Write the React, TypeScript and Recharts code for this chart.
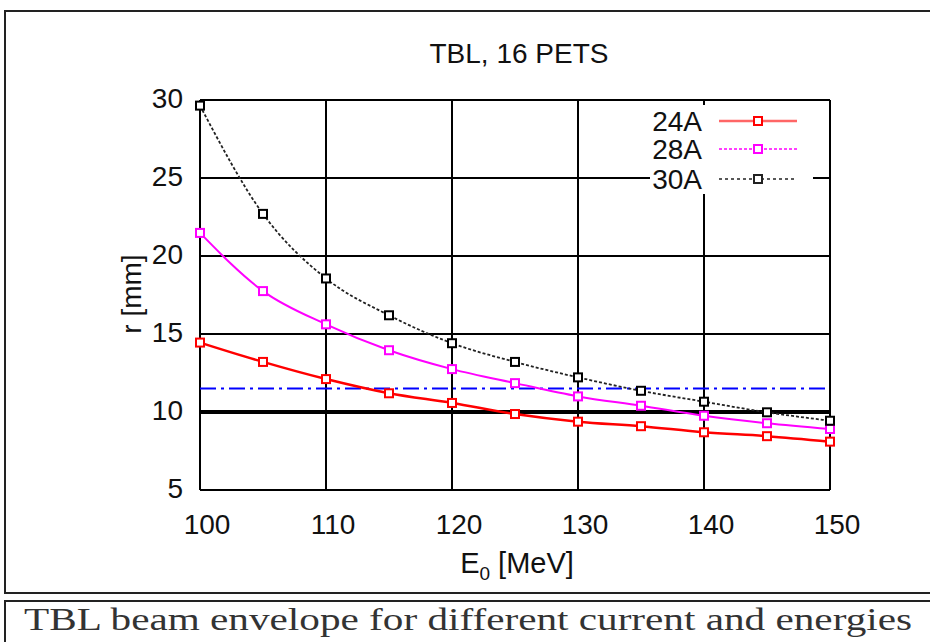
import React from 'react';
import { LineChart, Line, XAxis, YAxis, CartesianGrid, ReferenceLine, Legend } from 'recharts';

const energies = [100, 105, 110, 115, 120, 125, 130, 135, 140, 145, 150];
const r24A = [14.45, 13.21, 12.11, 11.2, 10.58, 9.87, 9.38, 9.09, 8.7, 8.45, 8.1];
const r28A = [21.48, 17.75, 15.62, 13.96, 12.75, 11.85, 11.0, 10.4, 9.76, 9.28, 8.91];
const r30A = [29.64, 22.7, 18.56, 16.2, 14.41, 13.21, 12.22, 11.36, 10.66, 9.98, 9.44];
const xTicks = [100, 110, 120, 130, 140, 150];
const yTicks = [5, 10, 15, 20, 25, 30];
const limitLine = 10;
const apertureLine = 11.5;
const seriesNames = ['24A', '28A', '30A'];

const data = energies.map((e, i) => ({ e, a24: r24A[i], a28: r28A[i], a30: r30A[i] }));

const FONT = '"Liberation Sans", Arial, sans-serif';

const squareDot = (color: string) => (props: any) => {
  const { cx, cy, index } = props;
  if (cx == null || cy == null) return <g key={index} />;
  return (
    <rect key={index} x={cx - 4} y={cy - 4} width={8} height={8} fill="#fff" stroke={color} strokeWidth={2} />
  );
};

const XTick = (props: any) => {
  const { x, y, payload } = props;
  return (
    <text x={x + 7} y={y + 42} textAnchor="middle" fontFamily={FONT} fontSize={28} fill="#111">
      {payload.value}
    </text>
  );
};

const YTick = (props: any) => {
  const { y, payload } = props;
  return (
    <text x={183} y={y + 8} textAnchor="end" fontFamily={FONT} fontSize={28} fill="#111">
      {payload.value}
    </text>
  );
};

const legendItems = [
  { name: seriesNames[0], color: '#ff0000', dash: undefined, width: 2.5 },
  { name: seriesNames[1], color: '#ff00ff', dash: '3 2', width: 1.5 },
  { name: seriesNames[2], color: '#222', dash: '3 3', width: 1.5 },
];

const LegendBox = () => (
  <svg width={163} height={89} style={{ display: 'block' }}>
    {legendItems.map((it, i) => {
      const cy = [16, 44, 74][i];
      return (
        <g key={it.name}>
          <text x={52} y={cy + 10} textAnchor="end" fontFamily={FONT} fontSize={28} fill="#111">
            {it.name}
          </text>
          <line x1={69} x2={147} y1={cy} y2={cy} stroke={it.color} strokeWidth={it.width} strokeDasharray={it.dash} strokeOpacity={i === 0 ? 0.6 : 1} />
          <rect x={104} y={cy - 4} width={8} height={8} fill="#fff" stroke={it.color} strokeWidth={2} />
        </g>
      );
    })}
  </svg>
);

export default function App() {
  return (
    <div style={{ position: 'absolute', left: 0, top: 0, width: 930, height: 642, background: '#fff', overflow: 'hidden' }}>
      <svg width={930} height={642} style={{ position: 'absolute', left: 0, top: 0 }}>
        <rect x={5} y={11} width={940} height={582} fill="none" stroke="#222" strokeWidth={2} />
        <rect x={5} y={601} width={940} height={60} fill="none" stroke="#222" strokeWidth={2} />
        <text x={519} y={63} textAnchor="middle" fontFamily={FONT} fontSize={28} fill="#111">
          TBL, 16 PETS
        </text>
        <text x={0} y={0} transform="translate(141,294) rotate(-90)" textAnchor="middle" fontFamily={FONT} fontSize={28} fill="#111">
          r [mm]
        </text>
        <text x={517} y={573} textAnchor="middle" fontFamily={FONT} fontSize={29} fill="#111">
          E<tspan dy={7} fontSize={19}>0</tspan><tspan dy={-7}> [MeV]</tspan>
        </text>
        <text x={24} y={630} textLength={888} lengthAdjust="spacingAndGlyphs" fontFamily='"Liberation Serif", serif' fontSize={31} fill="#333">
          TBL beam envelope for different current and energies
        </text>
      </svg>
      <div style={{ position: 'absolute', left: 0, top: 0 }}>
        <LineChart width={930} height={642} data={data} margin={{ top: 100, right: 100, bottom: 112, left: 140 }}>
          <CartesianGrid stroke="#000" strokeWidth={2} strokeOpacity={1} horizontal vertical fill="none" />
          <XAxis dataKey="e" type="number" domain={[100, 150]} ticks={xTicks} height={40} tickSize={0} tickLine={false} axisLine={false} tick={<XTick />} interval={0} />
          <YAxis type="number" domain={[5, 30]} ticks={yTicks} width={60} tickSize={0} tickLine={false} axisLine={false} tick={<YTick />} interval={0} />
          <ReferenceLine y={limitLine} stroke="#000" strokeWidth={4} />
          <ReferenceLine y={apertureLine} stroke="#0000ff" strokeWidth={2} strokeDasharray="16 5 3 5" />
          <Line type="monotone" dataKey="a24" name={seriesNames[0]} stroke="#ff0000" strokeWidth={2.5} isAnimationActive={false} dot={squareDot('#ff0000')} />
          <Line type="monotone" dataKey="a28" name={seriesNames[1]} stroke="#ff00ff" strokeWidth={2} isAnimationActive={false} dot={squareDot('#ff00ff')} />
          <Line type="monotone" dataKey="a30" name={seriesNames[2]} stroke="#222" strokeWidth={1.8} strokeDasharray="3 2" isAnimationActive={false} dot={squareDot('#000')} />
          <Legend layout="horizontal" verticalAlign="middle" align="center" content={<LegendBox />} wrapperStyle={{ position: 'absolute', left: 650, top: 105, width: 163, height: 89, background: '#fff' }} />
        </LineChart>
      </div>
    </div>
  );
}
